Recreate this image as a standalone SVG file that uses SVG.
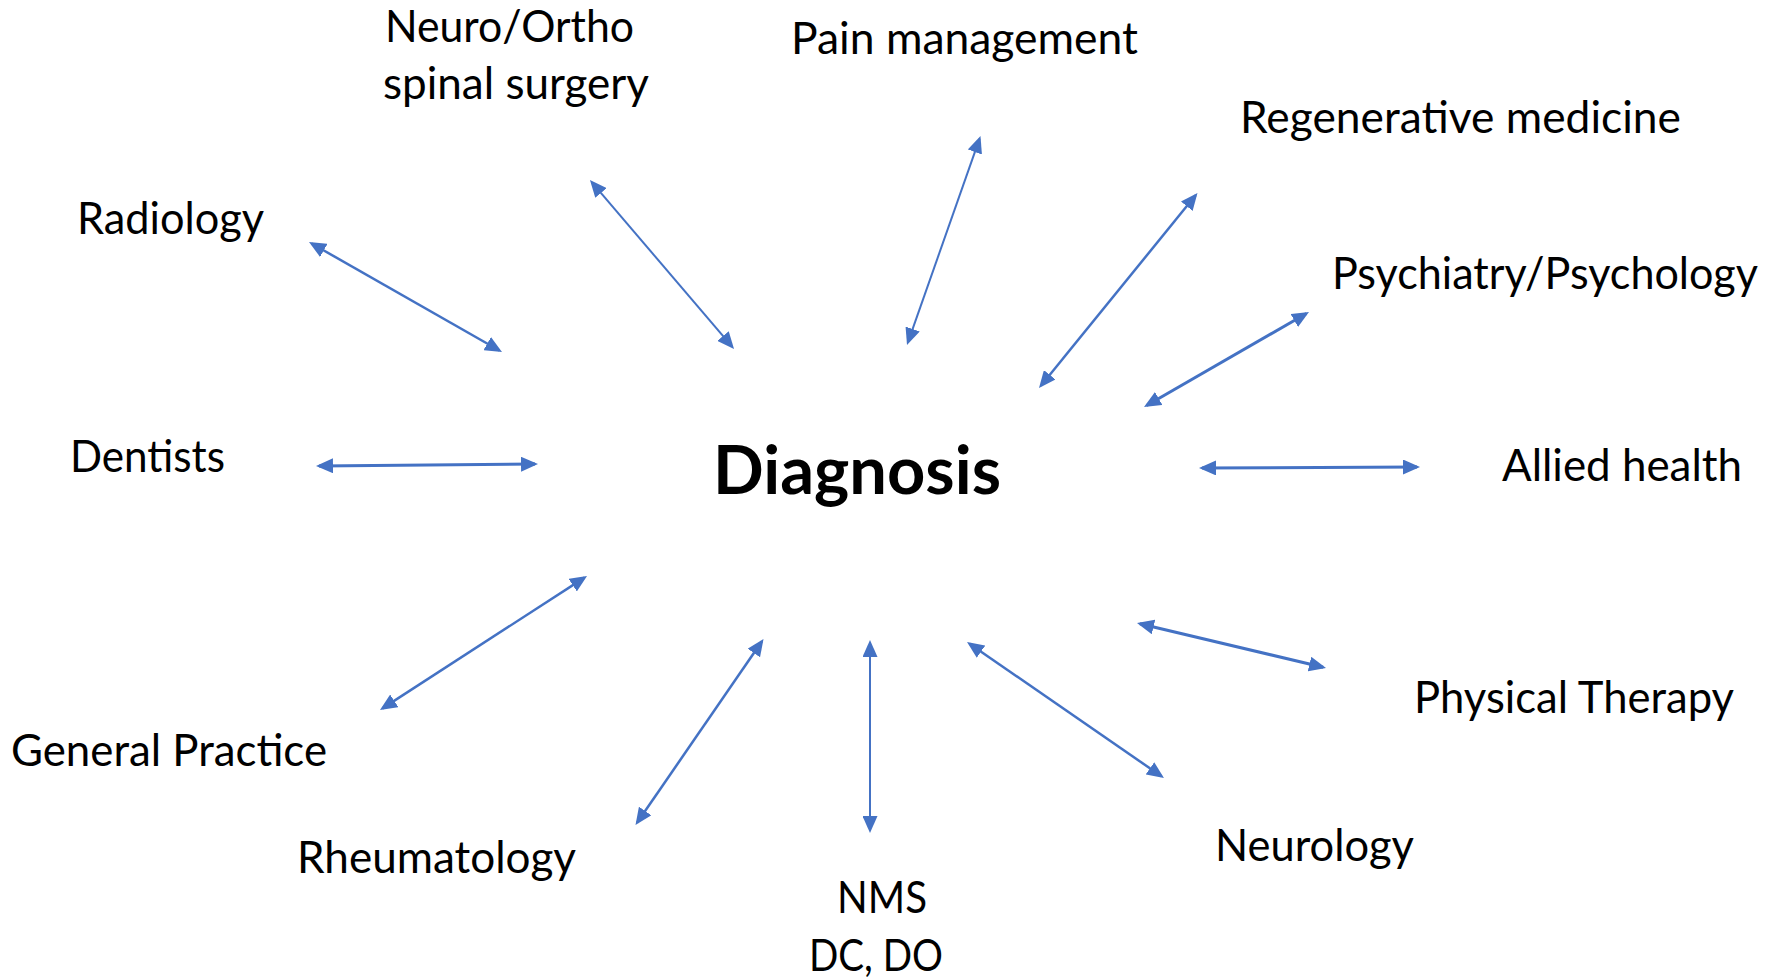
<svg xmlns="http://www.w3.org/2000/svg" width="1779" height="979" viewBox="0 0 1779 979">
<defs>
<style>
.lbl{font-family:Lato,"Liberation Sans",sans-serif;font-size:44px;fill:#000}
.main{font-family:Lato,"Liberation Sans",sans-serif;font-size:66px;font-weight:bold;fill:#000}
.c line{stroke:#4472C4;fill:none;marker-start:url(#ah);marker-end:url(#ah)}
.t1{stroke-width:2}
.t2{stroke-width:2.5}
.t3{stroke-width:3}
</style>
<marker id="ah" markerUnits="userSpaceOnUse" markerWidth="17" markerHeight="15" refX="14" refY="7.5" orient="auto-start-reverse">
<path d="M0,0 L17,7.5 L0,15 z" fill="#4472C4"/>
</marker>
</defs>
<rect width="1779" height="979" fill="#fff"/>
<g id="diagnosis"><text class="main" x="713" y="494" textLength="288" lengthAdjust="spacingAndGlyphs">Diagnosis</text></g>
<g id="neuro-ortho"><text class="lbl" x="385" y="42" textLength="249" lengthAdjust="spacingAndGlyphs">Neuro/Ortho</text><text class="lbl" x="383" y="99" textLength="266" lengthAdjust="spacingAndGlyphs">spinal surgery</text></g>
<g id="pain"><text class="lbl" x="791" y="54" textLength="347" lengthAdjust="spacingAndGlyphs">Pain management</text></g>
<g id="regen"><text class="lbl" x="1240" y="133" textLength="441" lengthAdjust="spacingAndGlyphs">Regenerative medicine</text></g>
<g id="radiology"><text class="lbl" x="77" y="234" textLength="187" lengthAdjust="spacingAndGlyphs">Radiology</text></g>
<g id="psych"><text class="lbl" x="1332" y="289" textLength="426" lengthAdjust="spacingAndGlyphs">Psychiatry/Psychology</text></g>
<g id="dentists"><text class="lbl" x="70" y="472" textLength="155" lengthAdjust="spacingAndGlyphs">Dentists</text></g>
<g id="allied"><text class="lbl" x="1502" y="481" textLength="240" lengthAdjust="spacingAndGlyphs">Allied health</text></g>
<g id="gp"><text class="lbl" x="11" y="766" textLength="316" lengthAdjust="spacingAndGlyphs">General Practice</text></g>
<g id="pt"><text class="lbl" x="1414" y="713" textLength="320" lengthAdjust="spacingAndGlyphs">Physical Therapy</text></g>
<g id="rheum"><text class="lbl" x="297" y="873" textLength="279" lengthAdjust="spacingAndGlyphs">Rheumatology</text></g>
<g id="neurology"><text class="lbl" x="1215" y="861" textLength="199" lengthAdjust="spacingAndGlyphs">Neurology</text></g>
<g id="nms"><text class="lbl" x="837" y="913" textLength="90" lengthAdjust="spacingAndGlyphs">NMS</text><text class="lbl" x="809" y="971" textLength="134" lengthAdjust="spacingAndGlyphs">DC, DO</text></g>
<g id="connectors" class="c">
<line class="t2" x1="311.6" y1="243.5" x2="499.4" y2="350.5"/>
<line class="t1" x1="591.9" y1="182.3" x2="732.1" y2="346.7"/>
<line class="t1" x1="979.5" y1="138.8" x2="908" y2="342.2"/>
<line class="t2" x1="1195.6" y1="195.3" x2="1040.9" y2="385.7"/>
<line class="t3" x1="1306.4" y1="313.5" x2="1146.6" y2="405.5"/>
<line class="t3" x1="319" y1="466" x2="535" y2="464"/>
<line class="t3" x1="1202" y1="468" x2="1417" y2="467"/>
<line class="t2" x1="584.5" y1="577.6" x2="382.5" y2="708.4"/>
<line class="t2" x1="761.8" y1="641.5" x2="637.2" y2="822.5"/>
<line class="t1" x1="870" y1="643" x2="870" y2="830"/>
<line class="t2" x1="969.5" y1="643.7" x2="1161.5" y2="776.3"/>
<line class="t3" x1="1139.9" y1="623.7" x2="1323.1" y2="667.3"/>
</g>
</svg>
